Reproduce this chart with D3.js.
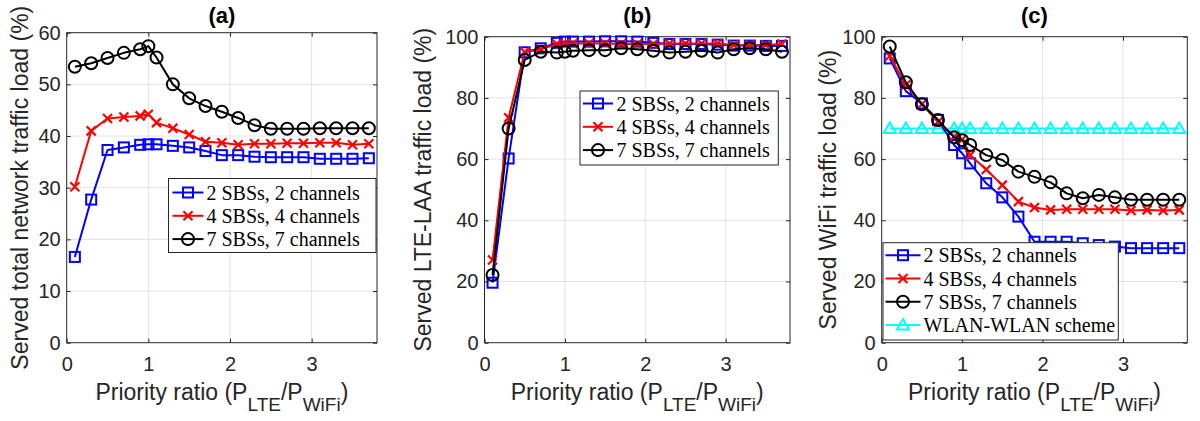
<!DOCTYPE html>
<html>
<head>
<meta charset="utf-8">
<script src="https://cdn.jsdelivr.net/npm/d3@7"></script>
<style>
  html, body { margin: 0; padding: 0; background: #fff; }
  svg { display: block; }
</style>
</head>
<body>
<svg id="chart" width="1200" height="421"></svg>
<script>
// Priority ratio values (x) shared by every curve
const ratio = [0.1, 0.3, 0.5, 0.7, 0.9, 1.0, 1.1, 1.3, 1.5, 1.7, 1.9, 2.1, 2.3, 2.5, 2.7, 2.9, 3.1, 3.3, 3.5, 3.7];

const seriesNames = ["2 SBSs, 2 channels", "4 SBSs, 4 channels", "7 SBSs, 7 channels"];
const wlanName = "WLAN-WLAN scheme";

// (a) served total network traffic load (%)
const totalSbs2 = [16.6, 27.7, 37.3, 37.8, 38.3, 38.4, 38.4, 38.1, 37.8, 37.1, 36.3, 36.3, 36.0, 35.9, 35.9, 35.9, 35.6, 35.6, 35.6, 35.7];
const totalSbs4 = [30.2, 41.0, 43.4, 43.7, 43.9, 44.2, 42.6, 41.5, 40.3, 38.9, 38.7, 38.3, 38.5, 38.5, 38.6, 38.6, 38.7, 38.7, 38.3, 38.5];
const totalSbs7 = [53.4, 54.1, 55.1, 56.1, 56.8, 57.4, 55.2, 50.0, 47.3, 45.8, 44.7, 43.5, 42.1, 41.4, 41.4, 41.4, 41.5, 41.5, 41.5, 41.5];

// (b) served LTE-LAA traffic load (%)
const lteSbs2 = [19.6, 60.2, 94.9, 96.2, 98.0, 98.4, 98.4, 98.4, 98.5, 98.5, 98.4, 98.0, 97.6, 97.6, 97.6, 97.4, 97.1, 97.1, 97.0, 97.0];
const lteSbs4 = [27.0, 73.5, 95.0, 95.9, 97.6, 97.8, 97.8, 97.8, 97.8, 97.6, 97.6, 97.6, 97.8, 97.8, 97.8, 97.8, 97.3, 97.3, 97.3, 97.6];
const lteSbs7 = [22.1, 70.0, 92.4, 95.1, 94.8, 95.1, 95.4, 95.6, 95.6, 96.2, 95.9, 95.4, 94.8, 95.1, 95.4, 94.8, 95.9, 96.2, 95.9, 95.1];

// (c) served WiFi traffic load (%)
const wifiSbs2 = [92.9, 82.2, 78.2, 72.8, 64.6, 61.9, 58.6, 52.1, 47.5, 41.2, 33.0, 33.0, 33.0, 32.5, 31.9, 31.4, 30.9, 30.9, 30.9, 30.9];
const wifiSbs4 = [93.7, 84.2, 77.9, 72.2, 67.3, 66.4, 61.3, 56.6, 51.5, 46.1, 44.2, 43.4, 43.6, 43.6, 43.6, 43.6, 43.2, 43.4, 43.2, 43.4];
const wifiSbs7 = [96.8, 85.1, 77.9, 72.8, 67.1, 66.2, 64.6, 61.3, 59.7, 55.9, 54.2, 52.4, 48.8, 47.2, 48.3, 47.5, 46.7, 46.7, 46.7, 46.7];
const wifiWlan = [70, 70, 70, 70, 70, 70, 70, 70, 70, 70, 70, 70, 70, 70, 70, 70, 70, 70, 70, 70];

const xTicks = [0, 1, 2, 3];
const yTicksA = [0, 10, 20, 30, 40, 50, 60];
const yTicksBC = [0, 20, 40, 60, 80, 100];

const titles = ["(a)", "(b)", "(c)"];
const yLabels = ["Served total network traffic load (%)", "Served LTE-LAA traffic load (%)", "Served WiFi traffic load (%)"];

const svg = d3.select("#chart");
const axisColor = "#262626";
const gridColor = "#e3e3e3";
const sansFont = "'Liberation Sans', Arial, Helvetica, sans-serif";
const serifFont = "'Liberation Serif', 'Times New Roman', serif";

const styles = {
  sbs2: { color: "#0000ff", marker: "square" },
  sbs4: { color: "#ff0000", marker: "cross" },
  sbs7: { color: "#000000", marker: "circle" },
  wlan: { color: "#00ffff", marker: "triangle" }
};

function drawMarker(g, type, color, x, y) {
  if (type === "square") {
    g.append("rect").attr("x", x - 5).attr("y", y - 5).attr("width", 10).attr("height", 10)
      .attr("fill", "none").attr("stroke", color).attr("stroke-width", 2);
  } else if (type === "circle") {
    g.append("circle").attr("cx", x).attr("cy", y).attr("r", 6)
      .attr("fill", "none").attr("stroke", color).attr("stroke-width", 2);
  } else if (type === "cross") {
    const s = 4.5;
    g.append("path").attr("d", `M${x - s},${y - s}L${x + s},${y + s}M${x - s},${y + s}L${x + s},${y - s}`)
      .attr("stroke", color).attr("stroke-width", 2.2).attr("fill", "none");
  } else if (type === "triangle") {
    const s = 6;
    g.append("path").attr("d", `M${x},${y - s}L${x + s},${y + s * 0.75}L${x - s},${y + s * 0.75}Z`)
      .attr("fill", "none").attr("stroke", color).attr("stroke-width", 2);
  }
}

function panel(cfg) {
  const { left, right, top, bottom, yMax, yTicks, title, yLabel, series, legend } = cfg;
  const x = d3.scaleLinear().domain([0, 3.8]).range([left, right]);
  const y = d3.scaleLinear().domain([0, yMax]).range([bottom, top]);
  const g = svg.append("g");

  // grid lines
  g.append("g").selectAll("line.gx").data(xTicks.filter(t => t > 0)).join("line")
    .attr("x1", d => x(d)).attr("x2", d => x(d)).attr("y1", top).attr("y2", bottom)
    .attr("stroke", gridColor).attr("stroke-width", 1);
  g.append("g").selectAll("line.gy").data(yTicks.filter(t => t > 0 && t < yMax)).join("line")
    .attr("y1", d => y(d)).attr("y2", d => y(d)).attr("x1", left).attr("x2", right)
    .attr("stroke", gridColor).attr("stroke-width", 1);

  // axes with inward ticks on all four sides
  const tickLen = 4;
  const fmt = d3.format("d");
  const axB = g.append("g").attr("transform", `translate(0,${bottom})`)
    .call(d3.axisBottom(x).tickValues(xTicks).tickFormat(fmt).tickSizeInner(-tickLen).tickSizeOuter(0).tickPadding(14));
  const axT = g.append("g").attr("transform", `translate(0,${top})`)
    .call(d3.axisTop(x).tickValues(xTicks).tickSizeInner(-tickLen).tickSizeOuter(0).tickFormat(""));
  const axL = g.append("g").attr("transform", `translate(${left},0)`)
    .call(d3.axisLeft(y).tickValues(yTicks).tickFormat(fmt).tickSizeInner(-tickLen).tickSizeOuter(0).tickPadding(6));
  const axR = g.append("g").attr("transform", `translate(${right},0)`)
    .call(d3.axisRight(y).tickValues(yTicks).tickSizeInner(-tickLen).tickSizeOuter(0).tickFormat(""));
  [axB, axT, axL, axR].forEach(a => {
    a.select(".domain").remove();
    a.selectAll("line").attr("stroke", axisColor).attr("stroke-width", 1);
    a.selectAll("text").attr("fill", axisColor).style("font-family", sansFont).style("font-size", "20px");
  });
  axB.selectAll("text").attr("dy", "0.71em");

  // axis box
  g.append("rect").attr("x", left).attr("y", top).attr("width", right - left).attr("height", bottom - top)
    .attr("fill", "none").attr("stroke", axisColor).attr("stroke-width", 1);

  // data
  const plot = g.append("g");
  series.forEach(s => {
    const st = styles[s.key];
    const pts = ratio.map((r, i) => [x(r), y(s.values[i])]);
    plot.append("path").attr("d", d3.line()(pts))
      .attr("fill", "none").attr("stroke", st.color).attr("stroke-width", 2).attr("stroke-linejoin", "round");
    pts.forEach(p => drawMarker(plot, st.marker, st.color, p[0], p[1]));
  });

  // title
  g.append("text").attr("x", (left + right) / 2).attr("y", 23).attr("text-anchor", "middle")
    .style("font-family", sansFont).style("font-size", "22px").style("font-weight", "bold")
    .attr("fill", "#000").text(title);

  // y label
  g.append("text").attr("transform", `translate(${cfg.yLabelX},${(top + bottom) / 2}) rotate(-90)`)
    .attr("text-anchor", "middle").attr("dominant-baseline", "middle")
    .style("font-family", sansFont).style("font-size", "23px").attr("fill", axisColor).text(yLabel);

  // x label with subscripts
  const xl = g.append("text").attr("x", (left + right) / 2).attr("y", 400).attr("text-anchor", "middle")
    .style("font-family", sansFont).style("font-size", "23px").attr("fill", axisColor);
  xl.append("tspan").text("Priority ratio (P");
  xl.append("tspan").attr("dy", 11).style("font-size", "19px").text("LTE");
  xl.append("tspan").attr("dy", -11).text("/P");
  xl.append("tspan").attr("dy", 11).style("font-size", "19px").text("WiFi");
  xl.append("tspan").attr("dy", -11).text(")");

  // legend
  const lg = g.append("g");
  lg.append("rect").attr("x", legend.x).attr("y", legend.y).attr("width", legend.w).attr("height", legend.h)
    .attr("fill", "#fff").attr("stroke", axisColor).attr("stroke-width", 1);
  legend.items.forEach((it, i) => {
    const st = styles[it.key];
    const cy = legend.y + legend.first + i * legend.step;
    lg.append("line").attr("x1", legend.x + legend.sx0).attr("x2", legend.x + legend.sx1)
      .attr("y1", cy).attr("y2", cy).attr("stroke", st.color).attr("stroke-width", 2);
    drawMarker(lg, st.marker, st.color, legend.x + (legend.sx0 + legend.sx1) / 2, cy);
    lg.append("text").attr("x", legend.x + legend.tx).attr("y", cy).attr("dy", "0.35em")
      .style("font-family", serifFont).style("font-size", "20px").attr("fill", "#000").text(it.label);
  });
}

panel({
  left: 66.7, right: 377, top: 32.7, bottom: 342.7, yMax: 60, yTicks: yTicksA,
  title: titles[0], yLabel: yLabels[0], yLabelX: 22,
  series: [{ key: "sbs2", values: totalSbs2 }, { key: "sbs4", values: totalSbs4 }, { key: "sbs7", values: totalSbs7 }],
  legend: { x: 168.5, y: 178.5, w: 207.5, h: 74, first: 14, step: 23.3, sx0: 4, sx1: 35, tx: 38,
    items: [{ key: "sbs2", label: seriesNames[0] }, { key: "sbs4", label: seriesNames[1] }, { key: "sbs7", label: seriesNames[2] }] }
});

panel({
  left: 484.5, right: 790, top: 36.7, bottom: 342.7, yMax: 100, yTicks: yTicksBC,
  title: titles[1], yLabel: yLabels[1], yLabelX: 425,
  series: [{ key: "sbs2", values: lteSbs2 }, { key: "sbs4", values: lteSbs4 }, { key: "sbs7", values: lteSbs7 }],
  legend: { x: 580, y: 91, w: 198.3, h: 74, first: 12.5, step: 23.3, sx0: 3, sx1: 33, tx: 36.5,
    items: [{ key: "sbs2", label: seriesNames[0] }, { key: "sbs4", label: seriesNames[1] }, { key: "sbs7", label: seriesNames[2] }] }
});

panel({
  left: 881.7, right: 1187.3, top: 36.7, bottom: 342.7, yMax: 100, yTicks: yTicksBC,
  title: titles[2], yLabel: yLabels[2], yLabelX: 830,
  series: [{ key: "wlan", values: wifiWlan }, { key: "sbs2", values: wifiSbs2 }, { key: "sbs4", values: wifiSbs4 }, { key: "sbs7", values: wifiSbs7 }],
  legend: { x: 883, y: 242.7, w: 235.3, h: 97.3, first: 12.5, step: 23.3, sx0: 2.5, sx1: 37.5, tx: 40.5,
    items: [{ key: "sbs2", label: seriesNames[0] }, { key: "sbs4", label: seriesNames[1] }, { key: "sbs7", label: seriesNames[2] }, { key: "wlan", label: wlanName }] }
});
</script>
</body>
</html>
